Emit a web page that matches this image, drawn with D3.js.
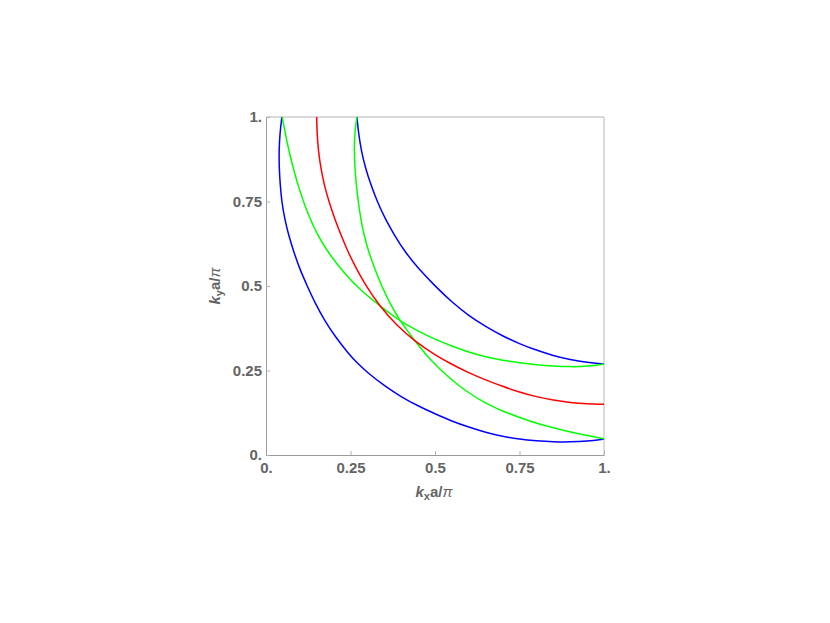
<!DOCTYPE html>
<html>
<head>
<meta charset="utf-8">
<script src="https://cdn.jsdelivr.net/npm/d3@7"></script>
<style>
  html, body { margin: 0; padding: 0; background: #fff; }
  svg { display: block; }
</style>
</head>
<body>
<svg id="chart" width="830" height="623"></svg>
<script>
// ---- data (kx a/π, ky a/π) ----
const xTicks = [0, 0.25, 0.5, 0.75, 1];
const yTicks = [0, 0.25, 0.5, 0.75, 1];
const tickLabels = ["0.", "0.25", "0.5", "0.75", "1."];

const blueInner = [
  [0.047,1.0],[0.041,0.95],[0.0385,0.90],[0.039,0.85],[0.042,0.80],[0.0465,0.75],
  [0.055,0.70],[0.067,0.65],[0.0825,0.60],[0.100,0.55],[0.122,0.50],[0.145,0.45],
  [0.172,0.40],[0.205,0.35],[0.244,0.30],[0.271,0.271],[0.30,0.244],[0.35,0.205],
  [0.40,0.172],[0.45,0.145],[0.50,0.122],[0.55,0.100],[0.60,0.0825],[0.65,0.067],
  [0.70,0.055],[0.75,0.0465],[0.80,0.042],[0.85,0.039],[0.90,0.0385],[0.95,0.041],[1.0,0.047]
];
const blueOuter = [
  [0.269,1.0],[0.274,0.95],[0.282,0.90],[0.294,0.85],[0.310,0.80],[0.329,0.75],
  [0.352,0.70],[0.380,0.65],[0.412,0.60],[0.452,0.55],[0.50,0.50],[0.55,0.452],
  [0.60,0.412],[0.65,0.380],[0.70,0.352],[0.75,0.329],[0.80,0.310],[0.85,0.294],
  [0.90,0.282],[0.95,0.274],[1.0,0.269]
];
const red = [
  [0.150,1.0],[0.151,0.95],[0.155,0.90],[0.162,0.85],[0.172,0.80],[0.186,0.75],
  [0.203,0.70],[0.222,0.65],[0.243,0.60],[0.268,0.55],[0.296,0.50],[0.335,0.442],
  [0.385,0.385],[0.442,0.335],[0.50,0.296],[0.55,0.268],[0.60,0.243],[0.65,0.222],
  [0.70,0.203],[0.75,0.186],[0.80,0.172],[0.85,0.162],[0.90,0.155],[0.95,0.151],[1.0,0.150]
];
const greenA = [
  [0.048,1.0],[0.063,0.92],[0.080,0.85],[0.100,0.78],[0.125,0.71],[0.155,0.645],
  [0.190,0.590],[0.230,0.540],[0.280,0.487],[0.337,0.441],[0.397,0.396],[0.45,0.366],
  [0.50,0.342],[0.55,0.322],[0.60,0.304],[0.65,0.290],[0.70,0.280],[0.75,0.273],
  [0.80,0.267],[0.85,0.263],[0.90,0.261],[0.95,0.262],[1.0,0.269]
];
const greenB = [
  [0.269,1.0],[0.262,0.95],[0.261,0.90],[0.263,0.85],[0.267,0.80],[0.273,0.75],
  [0.280,0.70],[0.290,0.65],[0.304,0.60],[0.322,0.55],[0.342,0.50],[0.366,0.45],
  [0.396,0.397],[0.441,0.337],[0.487,0.280],[0.540,0.230],[0.590,0.190],[0.645,0.155],
  [0.71,0.125],[0.78,0.100],[0.85,0.080],[0.92,0.063],[1.0,0.048]
];
const series = [
  {name: "blueInner", pts: blueInner, color: "#0000ff"},
  {name: "blueOuter", pts: blueOuter, color: "#0000ff"},
  {name: "greenA", pts: greenA, color: "#00ff00"},
  {name: "greenB", pts: greenB, color: "#00ff00"},
  {name: "red", pts: red, color: "#ff0000"}
];

// ---- layout ----
const svg = d3.select("#chart");
const L = 266, R = 604, T = 117, B = 455;
const x = d3.scaleLinear().domain([0, 1]).range([L, R]);
const y = d3.scaleLinear().domain([0, 1]).range([B, T]);

svg.append("defs").append("clipPath").attr("id", "clip")
  .append("rect").attr("x", L).attr("y", T).attr("width", R - L).attr("height", B - T);

// frame top/right
svg.append("line").attr("x1", L).attr("x2", R).attr("y1", T).attr("y2", T)
  .attr("stroke", "#b4b4b4").attr("stroke-width", 1);
svg.append("line").attr("x1", R).attr("x2", R).attr("y1", T).attr("y2", B)
  .attr("stroke", "#d2d2d2").attr("stroke-width", 1.6);

// curves
const line = d3.line().x(d => x(d[0])).y(d => y(d[1])).curve(d3.curveBasis);
svg.append("g").attr("clip-path", "url(#clip)")
  .selectAll("path").data(series).join("path")
  .attr("d", d => line(d.pts))
  .attr("fill", "none")
  .attr("stroke", d => d.color)
  .attr("stroke-width", 1.5);

// axes
const xAxis = svg.append("g").attr("transform", `translate(0,${B})`)
  .call(d3.axisBottom(x).tickValues(xTicks).tickFormat(v => tickLabels[xTicks.indexOf(v)])
    .tickSizeInner(-4).tickSizeOuter(0).tickPadding(7));
const yAxis = svg.append("g").attr("transform", `translate(${L},0)`)
  .call(d3.axisLeft(y).tickValues(yTicks).tickFormat(v => tickLabels[yTicks.indexOf(v)])
    .tickSizeInner(-4).tickSizeOuter(0).tickPadding(4));
[xAxis, yAxis].forEach(g => {
  g.attr("font-size", 15).attr("font-family", "Liberation Sans, Arial, sans-serif");
  g.select(".domain").attr("stroke", "#9a9a9a").attr("stroke-width", 1);
  g.selectAll(".tick line").attr("stroke", "#b0b0b0");
  g.selectAll(".tick text").attr("font-weight", "bold").attr("fill", "#646464")
    .attr("font-size", 15).attr("font-family", "Liberation Sans, Arial, sans-serif");
});

// axis titles
const lab = svg.append("text").attr("x", 434).attr("y", 497).attr("text-anchor", "middle")
  .attr("font-family", "Liberation Sans, Arial, sans-serif").attr("font-size", 15)
  .attr("font-weight", "bold").attr("fill", "#646464");
lab.append("tspan").attr("font-style", "italic").text("k");
lab.append("tspan").attr("font-size", 11).attr("dy", 3).text("x");
lab.append("tspan").attr("dy", -3).text("a/");
lab.append("tspan").attr("font-style", "italic").attr("font-weight", "normal").text("π");

const ylab = svg.append("text").attr("transform", "translate(220,286) rotate(-90)").attr("text-anchor", "middle")
  .attr("font-family", "Liberation Sans, Arial, sans-serif").attr("font-size", 15)
  .attr("font-weight", "bold").attr("fill", "#646464");
ylab.append("tspan").attr("font-style", "italic").text("k");
ylab.append("tspan").attr("font-size", 11).attr("dy", 3).text("y");
ylab.append("tspan").attr("dy", -3).text("a/");
ylab.append("tspan").attr("font-style", "italic").attr("font-weight", "normal").text("π");
</script>
</body>
</html>
